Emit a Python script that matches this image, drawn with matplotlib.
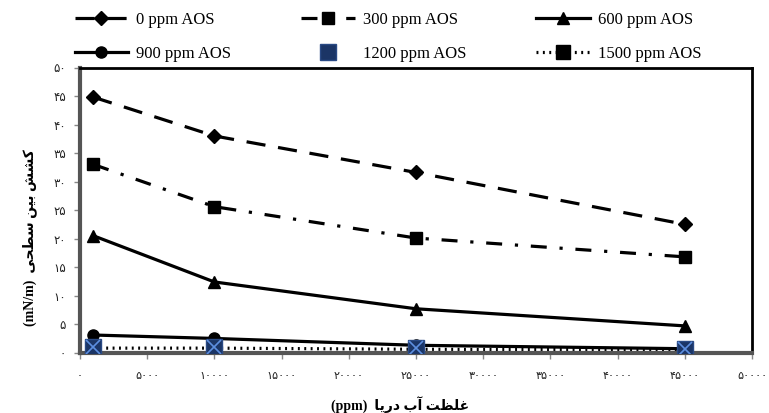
import matplotlib
matplotlib.use("Agg")
import matplotlib.pyplot as plt

# ---- data ----
x_ppm = [1000, 10000, 25000, 45000]
ift_0 = [44.8, 38.0, 31.6, 22.5]
ift_300 = [33.0, 25.6, 20.1, 16.8]
ift_600 = [20.5, 12.4, 7.7, 4.7]
ift_900 = [3.1, 2.5, 1.3, 0.7]
ift_1200 = [1.0, 1.0, 0.8, 0.6]
ift_1500 = [0.8, 0.8, 0.6, 0.5]
labels = ["0 ppm AOS", "300 ppm AOS", "600 ppm AOS",
          "900 ppm AOS", "1200 ppm AOS", "1500 ppm AOS"]
x_ticks = [0, 5000, 10000, 15000, 20000, 25000, 30000, 35000, 40000, 45000, 50000]
y_ticks = [0, 5, 10, 15, 20, 25, 30, 35, 40, 45, 50]

# Persian text in visual (presentation-form) order
ylab_fa = ("\uFBFD\uFEA4\uFEC4\uFEB3" + " " + "\uFEE6\uFBFF\uFE91" + " " +
           "\uFEB6\uFEB8\uFB90")
xlab_fa = ("\uFE8E\uFBFE\uFEAD\uFEA9" + " " + "\uFE8F\uFE81" + " " +
           "\uFE96\uFEC8\uFEE0\uFECF")

fa_digits = str.maketrans("0123456789", "\u06F0\u06F1\u06F2\u06F3\u06F4\u06F5\u06F6\u06F7\u06F8\u06F9")
def fa(v):
    return str(int(v)).translate(fa_digits)

fig = plt.figure(figsize=(7.69, 4.13), dpi=100)
ax = fig.add_axes([80/769, 1-352.7/413, 672/769, 285.2/413])

lw = 2.3
h0, = ax.plot(x_ppm, ift_0, color="black", lw=lw, dashes=(6, 4),
              marker="D", ms=7, mfc="black", mec="black")
h300, = ax.plot(x_ppm, ift_300, color="black", lw=lw, dashes=(5, 4, 1, 4),
                marker="s", ms=9, mfc="black", mec="black")
h600, = ax.plot(x_ppm, ift_600, color="black", lw=lw, ls="-",
                marker="^", ms=9, mfc="black", mec="black")
h900, = ax.plot(x_ppm, ift_900, color="black", lw=lw, ls="-",
                marker="o", ms=8, mfc="black", mec="black")
h1500, = ax.plot(x_ppm, ift_1500, color="black", lw=lw, dashes=(0.6, 1.4),
                 marker="s", ms=10, mfc="black", mec="black")
h1200, = ax.plot(x_ppm, ift_1200, ls="none", marker="s", ms=11,
                 mfc="#1b3566", mec="#2a4a85", zorder=5)
ax.plot(x_ppm, ift_1200, ls="none", marker="x", ms=10, mew=1.2,
        color="#5d8fe0", zorder=6)

ax.set_xlim(0, 50000)
ax.set_ylim(0, 50)
ax.set_xticks(x_ticks)
ax.set_yticks(y_ticks)
ax.set_xticklabels([fa(v) for v in x_ticks], fontsize=8, family=["DejaVu Sans"], color="#222222")
ax.set_yticklabels([fa(v) for v in y_ticks], fontsize=8.5, family=["DejaVu Sans"], color="#222222")
ax.tick_params(axis="both", direction="out", length=4, width=1, color="#888888")
ax.tick_params(axis="x", pad=9)
ax.tick_params(axis="y", pad=6)

for s in ["top", "right"]:
    ax.spines[s].set_linewidth(2.0)
    ax.spines[s].set_color("black")
ax.spines["left"].set_linewidth(3.0)
ax.spines["left"].set_color("#555555")
ax.spines["bottom"].set_linewidth(3.0)
ax.spines["bottom"].set_color("#555555")

fig.text(400/769, 1-405/413, "(ppm)  " + xlab_fa, ha="center", va="center",
         fontsize=10, fontweight="bold", family=["Liberation Serif", "DejaVu Sans"])
fig.text(30/769, 1-238/413, "(mN/m)  " + ylab_fa, ha="center", va="center",
         rotation=90, fontsize=10, fontweight="bold",
         family=["Liberation Serif", "DejaVu Sans"])

handles = [h0, h900, h300, h1200, h600, h1500]
labs = [labels[0], labels[3], labels[1], labels[4], labels[2], labels[5]]
leg = fig.legend(handles, labs, loc="upper left", bbox_to_anchor=(63/769, 1.0),
                 ncol=3, frameon=False, handlelength=3.2, handletextpad=0.5,
                 columnspacing=4.2, labelspacing=1.1, borderpad=0.2,
                 prop={"family": "Liberation Serif", "size": 12})

fig.savefig("out.png", dpi=100)
